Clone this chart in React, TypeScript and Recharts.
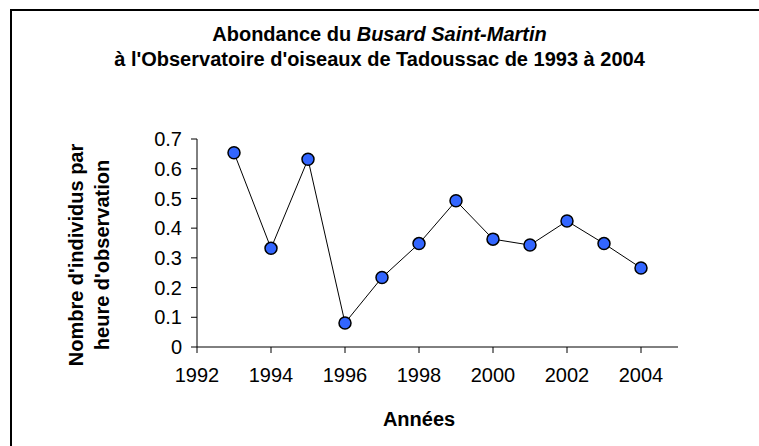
import { LineChart, Line, XAxis, YAxis } from 'recharts';

// Abondance du Busard Saint-Martin, Tadoussac 1993-2004
const years = [1993, 1994, 1995, 1996, 1997, 1998, 1999, 2000, 2001, 2002, 2003, 2004];
const abundance = [0.654, 0.332, 0.632, 0.081, 0.234, 0.348, 0.492, 0.363, 0.343, 0.424, 0.348, 0.266];
const xTicks = [1992, 1994, 1996, 1998, 2000, 2002, 2004];
const yTicks = [0, 0.1, 0.2, 0.3, 0.4, 0.5, 0.6, 0.7];

const data = years.map((y, i) => ({ year: y, value: abundance[i] }));

const FONT = '"Liberation Sans", Arial, sans-serif';

export default function App() {
  return (
    <div
      style={{
        position: 'fixed',
        left: 0,
        top: 0,
        width: 759,
        height: 446,
        background: '#fff',
        fontFamily: FONT,
        overflow: 'hidden',
      }}
    >
      {/* frame: only top and left edges show */}
      <div
        style={{
          position: 'absolute',
          left: 10,
          top: 9,
          width: 800,
          height: 500,
          borderTop: '2px solid #000',
          borderLeft: '2px solid #000',
        }}
      />
      <div
        style={{
          position: 'absolute',
          left: 0,
          width: 759,
          top: 22,
          textAlign: 'center',
          fontWeight: 700,
          fontSize: 20,
          lineHeight: '25px',
          color: '#000',
        }}
      >
        <div>
          Abondance du <i>Busard Saint-Martin</i>
        </div>
        <div>à l'Observatoire d'oiseaux de Tadoussac de 1993 à 2004</div>
      </div>
      <div style={{ position: 'absolute', left: 0, top: 0 }}>
        <LineChart
          width={759}
          height={446}
          data={data}
          margin={{ top: 139, right: 81, bottom: 69, left: 137 }}
        >
          <XAxis
            dataKey="year"
            type="number"
            domain={[1992, 2005]}
            ticks={xTicks}
            allowDataOverflow
            height={30}
            stroke="#000"
            tickSize={6}
            tickMargin={15}
            tick={{ fontSize: 20, fill: '#000', fontFamily: FONT }}
          />
          <YAxis
            type="number"
            domain={[0, 0.7]}
            ticks={yTicks}
            width={60}
            stroke="#000"
            tickSize={6}
            tickMargin={9}
            tick={{ fontSize: 20, fill: '#000', fontFamily: FONT }}
            tickFormatter={(v: number) => String(Math.round(v * 10) / 10)}
          />
          <text
            x={419}
            y={426}
            textAnchor="middle"
            fontSize={20}
            fontWeight={700}
            fontFamily={FONT}
            fill="#000"
          >
            Années
          </text>
          <text
            transform="translate(83 255) rotate(-90)"
            textAnchor="middle"
            fontSize={20}
            fontWeight={700}
            fontFamily={FONT}
            fill="#000"
          >
            <tspan x={0} dy={0}>Nombre d'individus par</tspan>
            <tspan x={0} dy={26}>heure d'observation</tspan>
          </text>
          <Line
            dataKey="value"
            stroke="#000"
            strokeWidth={1}
            dot={{ r: 6, fill: '#3366FF', stroke: '#000', strokeWidth: 1.5 }}
            isAnimationActive={false}
          />
        </LineChart>
      </div>
    </div>
  );
}
